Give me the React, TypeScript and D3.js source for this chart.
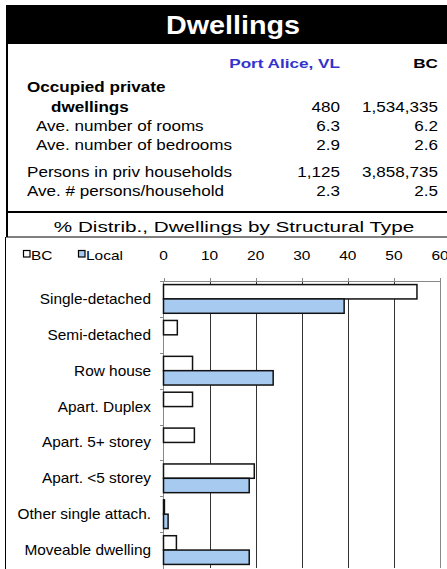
import React from "react";
import * as d3 from "d3";

const statLabels = [
  "Ave. number of rooms",
  "Ave. number of bedrooms",
];
const statLocal = ["6.3", "2.9"];
const statBC = ["6.2", "2.6"];

const dwellingsLocal = "480";
const dwellingsBC = "1,534,335";
const personsLocal = "1,125";
const personsBC = "3,858,735";
const perHouseholdLocal = "2.3";
const perHouseholdBC = "2.5";

const categories = [
  "Single-detached",
  "Semi-detached",
  "Row house",
  "Apart. Duplex",
  "Apart. 5+ storey",
  "Apart. <5 storey",
  "Other single attach.",
  "Moveable dwelling",
];
const bcValues = [55.0, 3.0, 6.3, 6.3, 6.7, 19.7, 0.2, 2.8];
const localValues = [39.2, 0, 23.8, 0, 0, 18.6, 1.0, 18.6];
const xTicks = [0, 10, 20, 30, 40, 50, 60];

const FONT = "'Liberation Sans', Arial, sans-serif";
const LOCAL_FILL = "#a6caf0";

// the source picture is stretched sideways, so text gets a horizontal scale
function T({ x, y, anchor = "start", size = 14, sx = 1.22, weight = "normal", fill = "#000", children }: any) {
  return (
    <text
      transform={`translate(${x},${y}) scale(${sx},1)`}
      textAnchor={anchor}
      fontSize={size}
      fontWeight={weight}
      fill={fill}
      fontFamily={FONT}
    >
      {children}
    </text>
  );
}

export default function App() {
  const width = 447;
  const height = 569;

  const x = d3.scaleLinear().domain([0, 60]).range([163.5, 440]);
  const y = d3.scaleBand().domain(categories).range([281, 568]);
  const bw = y.bandwidth();
  const barH = bw * 0.4;

  const colLocal = 340;
  const colBC = 438;

  return (
    <svg
      width={width}
      height={height}
      style={{ position: "absolute", left: 0, top: 0, background: "#fff" }}
    >
      {/* header */}
      <rect x={6} y={5} width={441} height={39} fill="#000" />
      <T x={233} y={34} anchor="middle" size={25} sx={1.15} weight="bold" fill="#fff">Dwellings</T>
      <line x1={7} x2={7} y1={5} y2={237} stroke="#000" strokeWidth={2} />
      <line x1={5.5} x2={5.5} y1={237} y2={569} stroke="#000" strokeWidth={1} />

      {/* summary table */}
      <T x={colLocal} y={68} anchor="end" size={13.5} sx={1.27} weight="bold" fill="#3333cc">Port Alice, VL</T>
      <T x={colBC} y={68} anchor="end" size={13.5} sx={1.27} weight="bold">BC</T>

      <T x={27} y={92} weight="bold">Occupied private</T>
      <T x={51} y={111.5} weight="bold">dwellings</T>
      <T x={colLocal} y={111.5} anchor="end">{dwellingsLocal}</T>
      <T x={colBC} y={111.5} anchor="end">{dwellingsBC}</T>

      {statLabels.map((s, i) => (
        <g key={s}>
          <T x={36} y={131 + i * 19}>{s}</T>
          <T x={colLocal} y={131 + i * 19} anchor="end">{statLocal[i]}</T>
          <T x={colBC} y={131 + i * 19} anchor="end">{statBC[i]}</T>
        </g>
      ))}

      <T x={27} y={177}>Persons in priv households</T>
      <T x={colLocal} y={177} anchor="end">{personsLocal}</T>
      <T x={colBC} y={177} anchor="end">{personsBC}</T>
      <T x={27} y={196}>Ave. # persons/household</T>
      <T x={colLocal} y={196} anchor="end">{perHouseholdLocal}</T>
      <T x={colBC} y={196} anchor="end">{perHouseholdBC}</T>

      <line x1={6} x2={447} y1={212} y2={212} stroke="#000" strokeWidth={2} />
      <T x={234} y={232} anchor="middle" size={15.5} sx={1.335}>% Distrib., Dwellings by Structural Type</T>
      <line x1={6} x2={447} y1={237} y2={237} stroke="#000" strokeWidth={1} />

      {/* legend */}
      <rect x={23.5} y={250.5} width={6.5} height={6.5} fill="#fff" stroke="#000" strokeWidth={1.2} />
      <T x={31} y={260} size={13} sx={1.19}>BC</T>
      <rect x={78.5} y={250.5} width={6.5} height={6.5} fill={LOCAL_FILL} stroke="#000" strokeWidth={1.2} />
      <T x={86} y={260} size={13} sx={1.19}>Local</T>

      {/* x tick labels */}
      {xTicks.map((t) => (
        <T key={t} x={x(t)} y={260} anchor="middle" size={13} sx={1.19}>{t}</T>
      ))}

      {/* gridlines */}
      {xTicks.slice(1).map((t) => (
        <line key={t} x1={Math.round(x(t)) + 0.5} x2={Math.round(x(t)) + 0.5} y1={281} y2={568} stroke={t === 60 ? "#888" : "#333"} strokeWidth={1} />
      ))}
      {/* top axis */}
      <line x1={163} x2={440.5} y1={281.5} y2={281.5} stroke="#888" strokeWidth={1} />
      {xTicks.map((t) => (
        <line key={t} x1={Math.round(x(t)) + 0.5} x2={Math.round(x(t)) + 0.5} y1={278} y2={281} stroke="#888" strokeWidth={1} />
      ))}
      {/* left axis */}
      <line x1={163.5} x2={163.5} y1={281} y2={569} stroke="#888" strokeWidth={1} />
      {categories.map((c) => (
        <line key={c} x1={160} x2={163.5} y1={Math.round(y(c)!) + 0.5} y2={Math.round(y(c)!) + 0.5} stroke="#888" strokeWidth={1} />
      ))}

      {/* bars */}
      {categories.map((c, i) => {
        const y0 = y(c)! + bw * 0.1;
        return (
          <g key={c}>
            {bcValues[i] > 0 && (
              <rect x={x(0)} y={y0} width={x(bcValues[i]) - x(0)} height={barH} fill="#fff" stroke="#111" strokeWidth={1.5} />
            )}
            {localValues[i] > 0 && (
              <rect x={x(0)} y={y0 + barH} width={x(localValues[i]) - x(0)} height={barH} fill={LOCAL_FILL} stroke="#111" strokeWidth={1.5} />
            )}
            <T x={151} y={y(c)! + bw / 2 + 5} anchor="end" size={14} sx={1.1}>{c}</T>
          </g>
        );
      })}
    </svg>
  );
}
